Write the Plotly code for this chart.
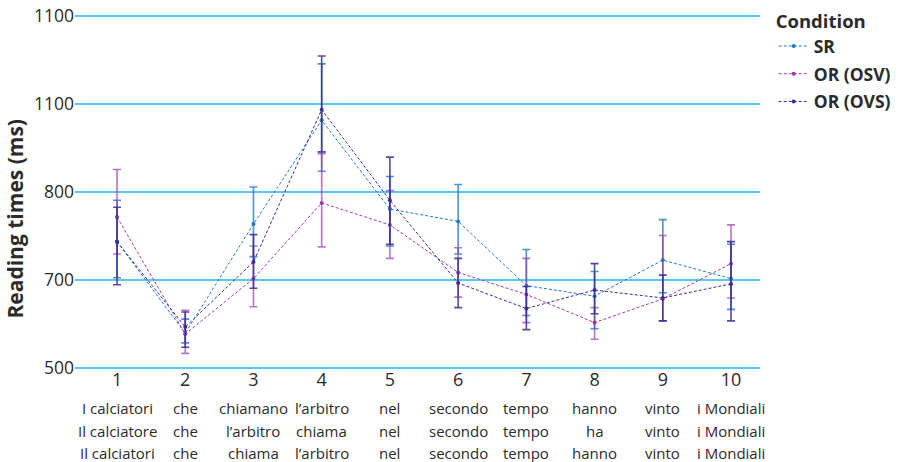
import plotly.graph_objects as go

# Sentence regions (x positions) and the word shown at each region per condition
regions = [1, 2, 3, 4, 5, 6, 7, 8, 9, 10]
words_sr = ["I calciatori", "che", "chiamano", "l\u2019arbitro", "nel", "secondo", "tempo", "hanno", "vinto", "i Mondiali"]
words_osv = ["Il calciatore", "che", "l\u2019arbitro", "chiama", "nel", "secondo", "tempo", "ha", "vinto", "i Mondiali"]
words_ovs = ["Il calciatori", "che", "chiama", "l\u2019arbitro", "nel", "secondo", "tempo", "hanno", "vinto", "i Mondiali"]

# Mean reading times with upper / lower error-bar lengths per condition
sr_mean = [744, 640, 764, 882, 781, 767, 694, 682, 723, 702]
sr_up = [47, 16, 42, 64, 37, 42, 41, 28, 46, 39]
sr_down = [41, 11, 37, 58, 42, 37, 34, 37, 37, 35]

osv_mean = [772, 639, 702, 788, 763, 709, 684, 652, 679, 719]
osv_up = [54, 27, 37, 56, 39, 28, 41, 17, 72, 44]
osv_down = [42, 22, 32, 50, 38, 28, 32, 19, 25, 39]

ovs_mean = [744, 647, 721, 894, 791, 697, 668, 689, 680, 696]
ovs_up = [39, 17, 31, 61, 49, 28, 25, 30, 26, 48]
ovs_down = [49, 23, 30, 48, 50, 28, 24, 27, 26, 42]

# Y axis tick positions and the labels printed at them
y_tickvals = [600, 700, 800, 900, 1000]
y_ticktext = ["500", "700", "800", "1100", "1100"]

series = [
    ("SR", sr_mean, sr_up, sr_down, "#1f7bc6", "rgba(31,118,196,0.8)"),
    ("OR (OSV)", osv_mean, osv_up, osv_down, "#9b3aad", "rgba(150,60,170,0.7)"),
    ("OR (OVS)", ovs_mean, ovs_up, ovs_down, "#3b2b96", "rgba(56,42,148,0.85)"),
]

FONT = "Open Sans"
TXT = "#2b2b2b"

fig = go.Figure()
for name, mean, up, down, col, ecol in series:
    fig.add_trace(go.Scatter(
        x=regions, y=mean, name=name, legendgroup=name, mode="lines+markers",
        line=dict(color=col, width=1, dash="3px,2px"),
        marker=dict(color=col, size=4),
        error_y=dict(type="data", symmetric=False, array=up, arrayminus=down,
                     visible=True, color=ecol, thickness=1.6, width=4),
    ))

# Word rows under the region numbers
row_y = [-0.103, -0.168, -0.229]
for rows, py in zip([words_sr, words_osv, words_ovs], row_y):
    for x, w in zip(regions, rows):
        fig.add_annotation(x=x, y=py, xref="x", yref="paper", text=w,
                           showarrow=False, font=dict(family=FONT, size=15, color=TXT),
                           xanchor="center", yanchor="middle")

# Y axis title
fig.add_annotation(x=-0.087, y=0.427, xref="paper", yref="paper",
                   text="<b>Reading times (ms)</b>", textangle=-90, showarrow=False,
                   font=dict(family=FONT, size=21, color=TXT),
                   xanchor="center", yanchor="middle")

fig.update_layout(
    width=910, height=462,
    margin=dict(l=75, r=150, t=13, b=91, autoexpand=False),
    paper_bgcolor="white", plot_bgcolor="white",
    font=dict(family=FONT, color=TXT),
    showlegend=True,
    legend=dict(
        title=dict(text="<b>Condition</b>", font=dict(family=FONT, size=18.5, color=TXT)),
        font=dict(family=FONT, size=17.5, color=TXT, weight="bold"),
        x=1.02, xanchor="left", y=1.025, yanchor="top",
        itemwidth=30, tracegroupgap=2, bgcolor="rgba(0,0,0,0)",
    ),
    xaxis=dict(
        range=[0.384, 10.425], tickvals=regions, ticktext=[str(r) for r in regions],
        showgrid=False, zeroline=False, showline=False, ticks="", automargin=False,
        ticklabelstandoff=-4,
        tickfont=dict(family=FONT, size=18, color=TXT),
    ),
    yaxis=dict(
        range=[597.0, 1003.8], tickvals=y_tickvals, ticktext=y_ticktext,
        showgrid=True, gridcolor="#5cc6ee", gridwidth=1.5, automargin=False,
        zeroline=False, showline=False, ticks="",
        tickfont=dict(family=FONT, size=17.5, color=TXT),
    ),
)

fig.write_html("out.html")
